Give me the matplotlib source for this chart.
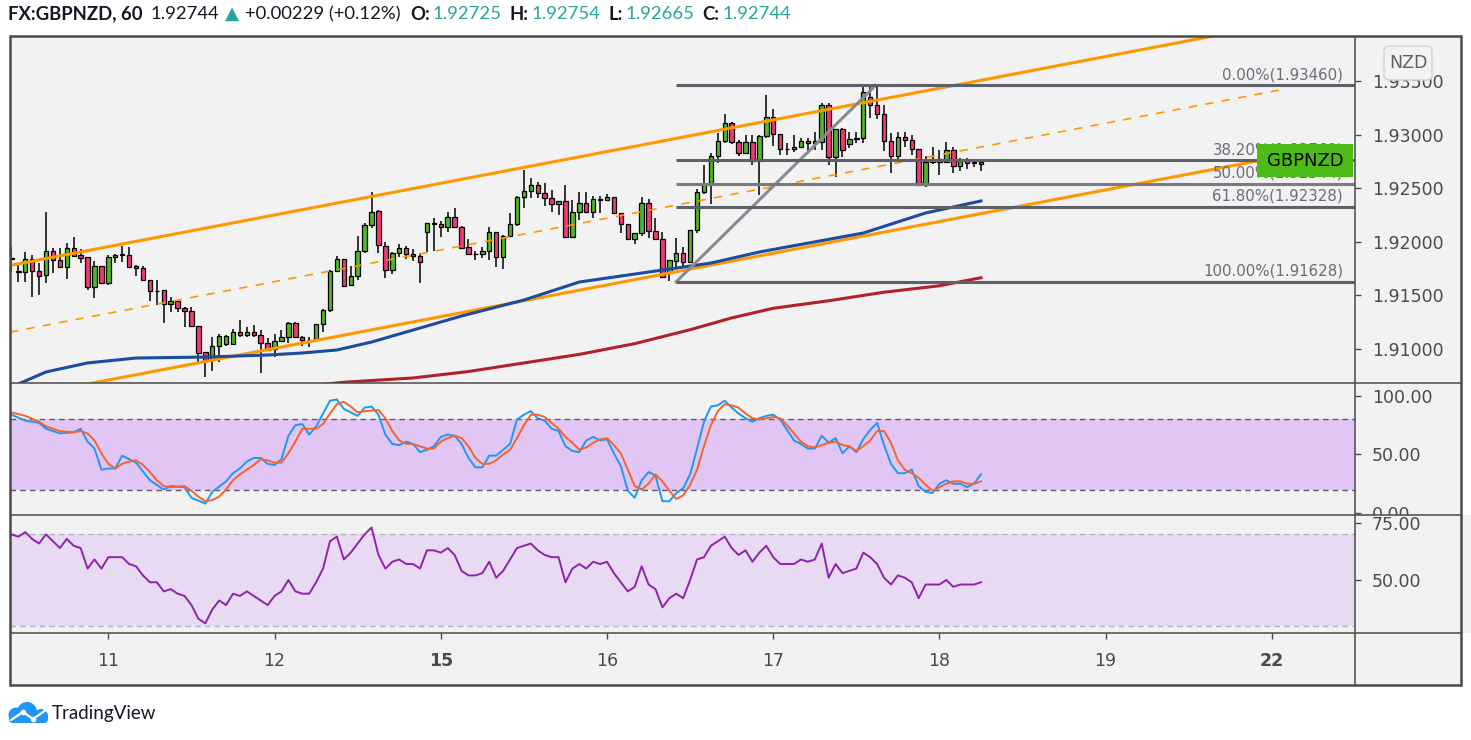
import numpy as np
import matplotlib
matplotlib.use("Agg")
import matplotlib.pyplot as plt
from matplotlib.patches import Rectangle, FancyBboxPatch, Circle

# ---- data (bar index: 0 = 11th 00:00, hourly bars) ----
opens = [1.91840, 1.91722, 1.91716, 1.91837, 1.91728, 1.91691, 1.91915, 1.91831, 1.91762, 1.91939,
         1.91877, 1.91856, 1.91576, 1.91775, 1.91613, 1.91856, 1.91880, 1.91880, 1.91775, 1.91753,
         1.91644, 1.91545, 1.91551, 1.91417, 1.91451, 1.91380, 1.91355, 1.91215, 1.90969, 1.90898,
         1.91028, 1.91044, 1.91044, 1.91156, 1.91131, 1.91162, 1.91128, 1.91053, 1.91000, 1.91078,
         1.91116, 1.91240, 1.91109, 1.91085, 1.91091, 1.91231, 1.91364, 1.91728, 1.91837, 1.91594,
         1.91685, 1.91915, 1.92157, 1.92288, 1.91963, 1.91737, 1.91893, 1.91939, 1.91887, 1.91868,
         1.92089, 1.92170, 1.92163, 1.92135, 1.92229, 1.92142, 1.91949, 1.91887, 1.91887, 1.91915,
         1.92091, 1.91861, 1.92054, 1.92166, 1.92414, 1.92470, 1.92529, 1.92458, 1.92405, 1.92349,
         1.92380, 1.92047, 1.92278, 1.92365, 1.92281, 1.92396, 1.92390, 1.92414, 1.92265, 1.92163,
         1.92022, 1.92079, 1.92358, 1.92100, 1.92022, 1.91706, 1.91823, 1.91892, 1.91808, 1.92110,
         1.92461, 1.92536, 1.92801, 1.92941, 1.93106, 1.92928, 1.92826, 1.92928, 1.92754, 1.92987,
         1.93168, 1.93003, 1.92869, 1.92869, 1.92888, 1.92944, 1.92925, 1.92934, 1.93277, 1.92788,
         1.93049, 1.92913, 1.92956, 1.92972, 1.93354, 1.93273, 1.93189, 1.92941, 1.92801, 1.92981,
         1.92950, 1.92863, 1.92530, 1.92748, 1.92770, 1.92748, 1.92857, 1.92708, 1.92754, 1.92739,
         1.92725]
highs = [1.91955, 1.91800, 1.91908, 1.91877, 1.91800, 1.92282, 1.91939, 1.91939, 1.91992, 1.92048,
         1.91933, 1.91856, 1.91821, 1.91775, 1.91877, 1.91887, 1.91964, 1.91955, 1.91784, 1.91775,
         1.91644, 1.91644, 1.91551, 1.91489, 1.91451, 1.91395, 1.91395, 1.91215, 1.90975, 1.91116,
         1.91141, 1.91131, 1.91187, 1.91271, 1.91209, 1.91224, 1.91178, 1.91100, 1.91141, 1.91178,
         1.91255, 1.91255, 1.91122, 1.91116, 1.91231, 1.91370, 1.91737, 1.91868, 1.91837, 1.91775,
         1.92055, 1.92179, 1.92462, 1.92297, 1.92001, 1.91908, 1.91977, 1.91964, 1.91930, 1.91899,
         1.92173, 1.92219, 1.92195, 1.92275, 1.92313, 1.92148, 1.92024, 1.91915, 1.91955, 1.92142,
         1.92091, 1.92063, 1.92265, 1.92427, 1.92669, 1.92592, 1.92561, 1.92545, 1.92483, 1.92380,
         1.92529, 1.92390, 1.92461, 1.92467, 1.92430, 1.92430, 1.92445, 1.92414, 1.92265, 1.92163,
         1.92085, 1.92421, 1.92396, 1.92218, 1.92094, 1.91830, 1.92032, 1.91948, 1.92110, 1.92490,
         1.92717, 1.92826, 1.93012, 1.93189, 1.93121, 1.92950, 1.92997, 1.92997, 1.92997, 1.93370,
         1.93236, 1.93003, 1.92919, 1.92997, 1.92965, 1.92965, 1.93028, 1.93292, 1.93292, 1.93049,
         1.93059, 1.93028, 1.93028, 1.93455, 1.93460, 1.93455, 1.93277, 1.93012, 1.93028, 1.93028,
         1.92997, 1.92863, 1.92801, 1.92882, 1.92857, 1.92934, 1.92888, 1.92779, 1.92779, 1.92764,
         1.92754]
lows = [1.91722, 1.91629, 1.91629, 1.91482, 1.91504, 1.91613, 1.91712, 1.91762, 1.91650, 1.91862,
        1.91800, 1.91551, 1.91473, 1.91613, 1.91594, 1.91800, 1.91815, 1.91762, 1.91681, 1.91644,
        1.91448, 1.91411, 1.91240, 1.91342, 1.91349, 1.91203, 1.91209, 1.90882, 1.90736, 1.90798,
        1.90882, 1.91028, 1.91038, 1.91116, 1.91116, 1.91116, 1.90773, 1.90991, 1.90922, 1.91066,
        1.91053, 1.91109, 1.91031, 1.91022, 1.91069, 1.91162, 1.91342, 1.91722, 1.91591, 1.91594,
        1.91644, 1.91899, 1.92126, 1.91899, 1.91659, 1.91696, 1.91856, 1.91837, 1.91825, 1.91619,
        1.91908, 1.91918, 1.92042, 1.92095, 1.92135, 1.91939, 1.91881, 1.91828, 1.91853, 1.91828,
        1.91768, 1.91743, 1.92041, 1.92150, 1.92318, 1.92411, 1.92405, 1.92337, 1.92281, 1.92250,
        1.92032, 1.92047, 1.92203, 1.92265, 1.92225, 1.92271, 1.92383, 1.92259, 1.92079, 1.92022,
        1.91979, 1.92054, 1.92038, 1.92016, 1.91668, 1.91630, 1.91743, 1.91752, 1.91799, 1.92080,
        1.92442, 1.92353, 1.92739, 1.92919, 1.92913, 1.92801, 1.92819, 1.92717, 1.92437, 1.92965,
        1.92894, 1.92810, 1.92810, 1.92841, 1.92888, 1.92841, 1.92857, 1.92857, 1.92717, 1.92608,
        1.92788, 1.92872, 1.92925, 1.92925, 1.93152, 1.93143, 1.92848, 1.92639, 1.92748, 1.92882,
        1.92810, 1.92525, 1.92515, 1.92726, 1.92624, 1.92748, 1.92639, 1.92664, 1.92676, 1.92701,
        1.92665]
closes = [1.91845, 1.91725, 1.91837, 1.91728, 1.91685, 1.91915, 1.91831, 1.91762, 1.91939, 1.91871,
          1.91852, 1.91576, 1.91775, 1.91613, 1.91856, 1.91874, 1.91882, 1.91769, 1.91753, 1.91644,
          1.91541, 1.91541, 1.91420, 1.91448, 1.91380, 1.91355, 1.91215, 1.90966, 1.90898, 1.91028,
          1.91122, 1.91122, 1.91156, 1.91128, 1.91162, 1.91128, 1.91053, 1.90991, 1.91078, 1.91116,
          1.91240, 1.91109, 1.91081, 1.91088, 1.91231, 1.91364, 1.91728, 1.91837, 1.91591, 1.91685,
          1.91915, 1.92157, 1.92282, 1.91971, 1.91737, 1.91892, 1.91939, 1.91887, 1.91868, 1.91809,
          1.92173, 1.92173, 1.92135, 1.92229, 1.92142, 1.91946, 1.91887, 1.91885, 1.91915, 1.92089,
          1.91861, 1.92054, 1.92166, 1.92414, 1.92470, 1.92529, 1.92452, 1.92405, 1.92349, 1.92380,
          1.92047, 1.92278, 1.92365, 1.92281, 1.92399, 1.92390, 1.92414, 1.92265, 1.92163, 1.92022,
          1.92079, 1.92358, 1.92100, 1.92022, 1.91674, 1.91830, 1.91892, 1.91808, 1.92110, 1.92461,
          1.92536, 1.92801, 1.92941, 1.93106, 1.92928, 1.92826, 1.92928, 1.92754, 1.92987, 1.93168,
          1.93003, 1.92863, 1.92866, 1.92888, 1.92944, 1.92925, 1.92944, 1.93277, 1.92788, 1.93049,
          1.92857, 1.92956, 1.92972, 1.93401, 1.93273, 1.93189, 1.92941, 1.92801, 1.92981, 1.92950,
          1.92863, 1.92530, 1.92748, 1.92770, 1.92748, 1.92857, 1.92708, 1.92754, 1.92739, 1.92742,
          1.92744]
first_bar = -14

# moving averages (bar index, price)
ma_blue_x = [-14, -13, -9, -3, 4, 14, 23, 28, 33, 38, 42, 51, 60, 68, 78, 87, 94, 109, 118, 126]
ma_blue_y = [1.90640, 1.90674, 1.90786, 1.90870, 1.90916, 1.90925, 1.90944, 1.90963, 1.90991, 1.91065,
             1.91140, 1.91308, 1.91457, 1.91625, 1.91718, 1.91802, 1.91905, 1.92082, 1.92269, 1.92381]
ma_red_x = [28, 34, 44, 52, 60, 68, 76, 84, 90, 96, 104, 112, 120, 126]
ma_red_y = [1.90650, 1.90690, 1.90730, 1.90790, 1.90870, 1.90950, 1.91050, 1.91180, 1.91290, 1.91380,
            1.91450, 1.91530, 1.91590, 1.91665]

# rising channel (two anchors each)
chan_x = [-14.2, 169.6]
chan_upper = [1.91780, 1.94044]
chan_mid = [1.91158, 1.93422]
chan_lower = [1.90536, 1.92800]

# fibonacci retracement
fib_pct = [0.0, 38.2, 50.0, 61.8, 100.0]
fib_price = [1.93460, 1.92760, 1.92544, 1.92328, 1.91628]
fib_x = [82, 110.8]          # anchor bars (low, high)

# stochastic
stoch_k_x = [-14, -12, -10, -9, -7, -5, -4, -3, -2, -1, 0, 1, 2, 4, 6, 7, 8, 9, 11, 12, 14, 15, 17, 18, 19,
             20, 21, 22, 23, 24, 25, 26, 27, 28, 29, 30, 31, 32, 33, 34, 36, 37, 38, 39, 40, 41, 42, 43,
             44, 45, 46, 47, 48, 49, 50, 51, 52, 53, 54, 55, 56, 57, 58, 59, 60, 61, 62, 63, 64, 65, 66,
             67, 68, 69, 70, 71, 72, 73, 74, 75, 76, 77, 78, 79, 80, 81, 82, 83, 84, 85, 86, 87, 88, 89,
             90, 91, 92, 93, 94, 95, 96, 97, 98, 99, 100, 101, 102, 103, 104, 105, 106, 107, 108, 109,
             110, 111, 112, 113, 114, 115, 116, 117, 118, 119, 120, 121, 122, 123, 124, 125, 126]
stoch_k = [84, 79, 77, 72, 68, 69, 72, 61, 55, 37, 38, 38, 49, 43, 28, 24, 20, 23, 22, 13, 8, 18, 27, 34, 38,
           44, 47, 47, 42, 41, 46, 66, 75, 76, 67, 74, 85, 96, 97, 89, 83, 90, 91, 84, 67, 59, 58, 61,
           59, 52, 54, 57, 65, 67, 66, 59, 47, 39, 39, 49, 49, 54, 59, 80, 84, 87, 81, 79, 72, 70, 57,
           53, 52, 62, 65, 62, 63, 51, 40, 19, 13, 28, 35, 32, 10, 10, 17, 21, 33, 55, 78, 91, 92, 96,
           90, 85, 81, 78, 81, 83, 84, 80, 71, 62, 59, 55, 55, 66, 60, 64, 51, 57, 52, 63,
           71, 77, 58, 42, 34, 34, 37, 23, 18, 17, 25, 28, 25, 25, 22, 25, 33]
stoch_d_x = [-14, -12, -10, -9, -7, -5, -4, -3, -2, -1, 0, 1, 2, 3, 4, 5, 6, 7, 8, 9, 11, 12, 13, 14, 15, 16,
             17, 18, 19, 21, 22, 23, 24, 25, 26, 27, 28, 30, 31, 32, 33, 34, 35, 36, 37, 39, 40, 41, 42,
             43, 44, 45, 46, 47, 48, 49, 50, 51, 52, 53, 54, 55, 56, 57, 58, 59, 60, 61, 62, 63, 64, 65,
             66, 67, 68, 69, 70, 71, 72, 73, 74, 75, 76, 77, 78, 79, 80, 81, 82, 83, 84, 85, 86, 87, 88,
             89, 90, 91, 92, 93, 94, 95, 96, 97, 98, 99, 100, 101, 102, 103, 104, 105, 106, 107, 108,
             109, 110, 111, 112, 113, 114, 115, 116, 117, 118, 119, 120, 121, 122, 123, 124, 125, 126]
stoch_d = [86, 83, 78, 74, 70, 69, 70, 68, 62, 51, 42, 38, 42, 44, 45, 41, 35, 28, 23, 22, 23, 19, 14, 10, 11, 14,
           20, 28, 33, 41, 46, 45, 43, 43, 51, 61, 72, 72, 76, 85, 93, 95, 91, 86, 87, 88, 81, 70, 62,
           59, 59, 57, 55, 55, 61, 64, 66, 64, 57, 47, 42, 42, 45, 50, 54, 64, 75, 84, 84, 82, 77, 72,
           65, 60, 54, 56, 60, 63, 64, 58, 51, 37, 23, 20, 25, 33, 27, 19, 12, 15, 24, 37, 57, 75, 87,
           93, 92, 90, 85, 81, 80, 81, 82, 81, 75, 68, 61, 57, 56, 58, 60, 61, 58, 57, 53,
           57, 62, 70, 70, 60, 45, 37, 34, 30, 24, 19, 22, 25, 27, 27, 25, 25, 27]

# RSI
rsi_x = [-14, -13, -12, -11, -10, -9, -8, -7, -6, -5, -4, -3, -2, -1, 0, 2, 3, 4, 5, 6, 7, 8, 9, 10, 11, 12,
         13, 14, 15, 16, 17, 18, 19, 20, 21, 22, 23, 24, 25, 26, 27, 28, 29, 30, 31, 32, 33, 34, 35, 36,
         37, 38, 39, 40, 41, 42, 43, 44, 45, 46, 47, 48, 49, 50, 51, 52, 53, 54, 55, 56, 57, 58, 59, 61,
         62, 63, 64, 65, 66, 67, 68, 69, 70, 71, 72, 73, 74, 75, 76, 77, 78, 79, 80, 81, 82, 83, 84, 85,
         86, 87, 88, 89, 90, 91, 92, 93, 94, 95, 96, 97, 98, 99, 100, 101, 102, 103, 104, 105, 106, 107,
         108, 109, 110, 111, 112, 113, 114, 115, 116, 117, 118, 119, 120, 121, 122, 123, 124, 125, 126]
rsi = [70, 69, 71, 68, 66, 70, 67, 64, 68, 65, 64, 55, 59, 55, 60, 60, 57, 56, 52, 49, 49, 45, 46, 44, 43, 39,
       33, 31, 37, 41, 39, 44, 43, 45, 43, 41, 39, 43, 45, 50, 45, 44, 44, 49, 55, 67, 69, 59, 62, 66,
       70, 73, 61, 55, 58, 59, 57, 57, 55, 63, 63, 62, 64, 61, 54, 52, 52, 53, 58, 51, 54, 59, 64, 66,
       63, 61, 60, 60, 49, 55, 57, 55, 58, 57, 58, 53, 49, 45, 47, 56, 48, 46, 38, 42, 44, 42, 50, 59,
       60, 65, 67, 69, 64, 61, 63, 58, 62, 65, 60, 57, 57, 57, 59, 58, 59, 66, 51, 57, 53, 54,
       55, 62, 60, 57, 51, 48, 52, 51, 49, 42, 48, 48, 48, 50, 47, 48, 48, 48, 49]

day_ticks = [0, 24, 48, 72, 96, 120, 144, 168]
day_labels = ['11', '12', '15', '16', '17', '18', '19', '22']
week_start = ['15', '22']

# ---- styling ----
W, H = 1471, 740
BG = '#f2f2f2'
FRAME = '#4a4a4a'
TXT = '#4a4a4a'
GREEN = '#52b52a'
PINK = '#f23a72'
ORANGE = '#ff9800'
FIBC = '#5d606b'

fig = plt.figure(figsize=(W / 100, H / 100), dpi=100)
fig.patch.set_facecolor('white')


def frac(x0, y0, x1, y1):
    return [x0 / W, 1 - y1 / H, (x1 - x0) / W, (y1 - y0) / H]


bg = fig.add_axes([0, 0, 1, 1], zorder=-10)
bg.set_xlim(0, W)
bg.set_ylim(H, 0)
bg.axis('off')
bg.add_patch(Rectangle((10, 36), 1451, 649, fc=BG, ec='none'))

ax = fig.add_axes(frac(10, 36, 1355, 383))
ax_st = fig.add_axes(frac(10, 383, 1355, 515), sharex=ax)
ax_rsi = fig.add_axes(frac(10, 515, 1355, 633), sharex=ax)

for a in (ax, ax_st, ax_rsi):
    a.set_facecolor(BG)
    for s in a.spines.values():
        s.set_visible(False)
    a.yaxis.tick_right()
    a.tick_params(axis='y', direction='out', length=4.3, width=1, color=FRAME,
                  labelcolor=TXT, labelsize=12.5, pad=8)
    a.tick_params(axis='x', bottom=False, labelbottom=False)

ax.set_xlim(-14.2, 180.0)

# candles
idx = np.arange(first_bar, first_bar + len(opens))
o, hi, lo, c = (np.array(v) for v in (opens, highs, lows, closes))
body = np.abs(c - o)
cols = np.where(c >= o, GREEN, PINK).astype(object)
cols[body < 0.00004] = 'black'
ax.vlines(idx, lo, hi, color='black', lw=1.1, zorder=2)
ax.bar(idx, np.maximum(body, 0.000012), bottom=np.minimum(o, c), width=0.64,
       color=cols, edgecolor='black', linewidth=0.9, zorder=3)

# channel
ax.plot(chan_x, chan_upper, color=ORANGE, lw=2.2, zorder=4)
ax.plot(chan_x, chan_lower, color=ORANGE, lw=2.2, zorder=4)
ax.plot(chan_x, chan_mid, color=ORANGE, lw=1.2, ls=(0, (5, 5)), zorder=4)

# moving averages
ax.plot(ma_blue_x, ma_blue_y, color='#1c4c9e', lw=2.2, zorder=4)
ax.plot(ma_red_x, ma_red_y, color='#b2202a', lw=2.2, zorder=4)

# fibonacci
ax.plot(fib_x, [fib_price[-1], fib_price[0]], color='#8a8a92', lw=2.2, zorder=5)
for pct, p in zip(fib_pct, fib_price):
    ax.hlines(p, fib_x[0], 180.0, color='#787b86' if pct == 50.0 else FIBC, lw=2.2, zorder=5)
    ax.annotate(f'{pct:.2f}%({p:.5f})', xy=(178.3, p), xytext=(0, 3), textcoords='offset pixels',
                ha='right', va='bottom', fontsize=10.8, color='#6a6d78', zorder=6)

ax.set_ylim(1.90683, 1.93920)
pticks = [1.910, 1.915, 1.920, 1.925, 1.930, 1.935]
ax.set_yticks(pticks)
ax.set_yticklabels([f'{v:.5f}' for v in pticks])

# stochastic pane
ax_st.axhspan(20, 80, color='#e1c5f4', lw=0, zorder=1)
ax_st.axhline(80, color='#5d5870', lw=1, ls=(0, (4, 3)), zorder=2)
ax_st.axhline(20, color='#5d5870', lw=1, ls=(0, (4, 3)), zorder=2)
ax_st.plot(stoch_k_x, stoch_k, color='#2196f3', lw=1.4, zorder=3)
ax_st.plot(stoch_d_x, stoch_d, color='#f4642a', lw=1.4, zorder=3)
ax_st.set_ylim(-1.75, 111.1)
ax_st.set_yticks([0, 50, 100])
ax_st.set_yticklabels(['0.00', '50.00', '100.00'])

# RSI pane
ax_rsi.axhspan(30, 70, color='#e8daf3', lw=0, zorder=1)
ax_rsi.axhline(70, color='#b8b0c2', lw=1, ls=(0, (4, 3)), zorder=2)
ax_rsi.axhline(30, color='#b8b0c2', lw=1, ls=(0, (4, 3)), zorder=2)
ax_rsi.plot(rsi_x, rsi, color='#8e24aa', lw=1.4, zorder=3)
ax_rsi.set_ylim(26.75, 78.5)
ax_rsi.set_yticks([50, 75])
ax_rsi.set_yticklabels(['50.00', '75.00'])
# hide the lower half of the stochastic "0.00" label like the chart does
ax_rsi.add_patch(Rectangle((1.0, 0), 0.1, 1.0, transform=ax_rsi.transAxes, clip_on=False,
                           fc=BG, ec='none', zorder=0.5))

ax_rsi.set_xticks(day_ticks)
ax_rsi.set_xticklabels(day_labels)
ax_rsi.tick_params(axis='x', bottom=True, labelbottom=True, direction='out', length=4,
                   width=1, color=FRAME, labelcolor=TXT, labelsize=12.5, pad=10)
for lab in ax_rsi.get_xticklabels():
    if lab.get_text() in week_start:
        lab.set_fontweight('bold')

# ---- overlay: frame, labels, header, logo ----
top = fig.add_axes([0, 0, 1, 1], zorder=10)
top.set_xlim(0, W)
top.set_ylim(H, 0)
top.axis('off')
top.patch.set_visible(False)

top.add_patch(Rectangle((10, 36), 1451, 649, fill=False, ec=FRAME, lw=1.8))
top.hlines([383, 515, 633], 10, 1461, color=FRAME, lw=1.1)
top.vlines(1355, 36, 685, color=FRAME, lw=1.1)

top.add_patch(Rectangle((1257, 144), 96, 33, fc='#4cbb17', ec='none'))
top.text(1305, 161, 'GBPNZD', fontsize=13, color='black', ha='center', va='center')

top.add_patch(FancyBboxPatch((1384, 46), 48, 34, boxstyle='round,pad=0,rounding_size=5',
                             fc=BG, ec='#cfd0d6', lw=1))
top.text(1408, 63, 'NZD', fontsize=12.5, color='#5d606b', ha='center', va='center')

DARK = '#131722'
TEAL = '#26a69a'
header = [('FX:GBPNZD, 60', 'bold', DARK, 8), ('1.92744', 'normal', DARK, 6), ('\u25B2', 'normal', TEAL, 6),
          ('+0.00229 (+0.12%)', 'normal', DARK, 9), ('O:', 'bold', DARK, 3), ('1.92725', 'normal', TEAL, 8),
          ('H:', 'bold', DARK, 3), ('1.92754', 'normal', TEAL, 8), ('L:', 'bold', DARK, 3),
          ('1.92665', 'normal', TEAL, 8), ('C:', 'bold', DARK, 3), ('1.92744', 'normal', TEAL, 0)]
renderer = fig.canvas.get_renderer()
x = 8
for txt, weight, color, gap in header:
    t = top.text(x, 14, txt, fontsize=13.3, fontweight=weight, color=color, ha='left', va='center',
                 family=['Lato', 'DejaVu Sans'])
    x = t.get_window_extent(renderer).x1 + gap

# TradingView logo
LOGO = '#2196f3'
for cx, cy, r in [(16, 715, 7.5), (27, 712, 10), (41, 716, 7)]:
    top.add_patch(Circle((cx, cy), r, fc=LOGO, ec='none'))
top.add_patch(FancyBboxPatch((9, 714), 39, 9, boxstyle='round,pad=0,rounding_size=4', fc=LOGO, ec='none'))
top.plot([11, 23, 33, 46], [720, 712, 719, 710], color='white', lw=1.6, solid_capstyle='round')
top.plot([23, 33], [712, 719], 'o', color='white', ms=3)
top.text(52, 713, 'TradingView', fontsize=13.5, color=DARK, ha='left', va='center',
         family=['Lato', 'DejaVu Sans'])

fig.savefig('out.png', dpi=100)
